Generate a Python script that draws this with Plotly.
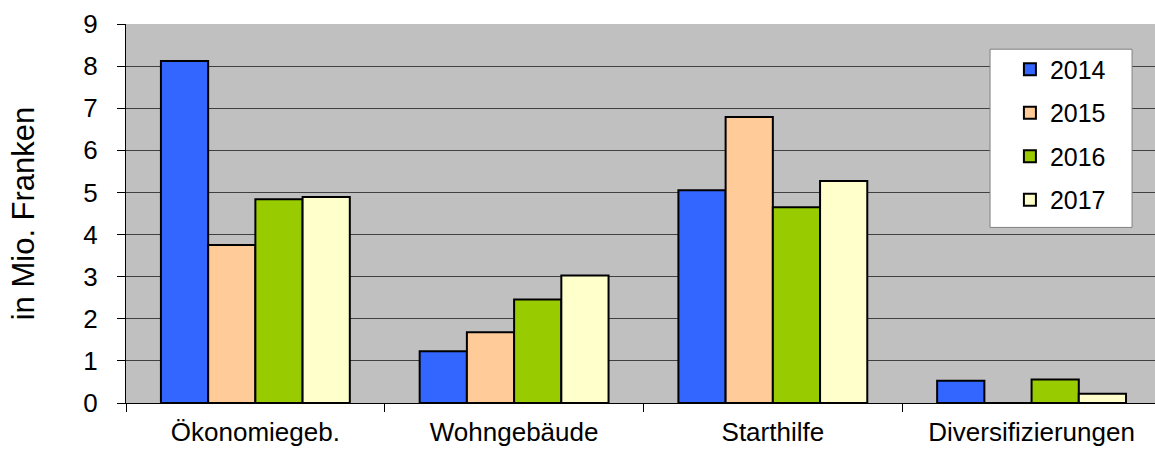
import plotly.graph_objects as go

categories = ["Ökonomiegeb.", "Wohngebäude", "Starthilfe", "Diversifizierungen"]
years = ["2014", "2015", "2016", "2017"]
v2014 = [8.12, 1.23, 5.05, 0.53]
v2015 = [3.75, 1.68, 6.79, 0.0]
v2016 = [4.84, 2.46, 4.65, 0.56]
v2017 = [4.89, 3.03, 5.27, 0.22]
series = [v2014, v2015, v2016, v2017]
colors = ["#3366FF", "#FFCC99", "#99CC00", "#FFFFCC"]
yticks = list(range(0, 10))

fig = go.Figure()
for i, (name, vals, col) in enumerate(zip(years, series, colors)):
    fig.add_trace(go.Bar(
        x=categories, y=vals, name=name,
        marker=dict(color=col, line=dict(color="black", width=2)),
        legendgroup=name,
    ))

# white legend frame
fig.add_shape(type="rect", xref="paper", yref="paper",
              x0=0.8397, x1=0.9777, y0=0.4633, y1=0.9335,
              fillcolor="white", line=dict(color="#808080", width=1), layer="above")

fig.update_layout(
    width=1155, height=452,
    margin=dict(l=125.5, r=0, t=23.5, b=49.3, autoexpand=False),
    paper_bgcolor="white",
    plot_bgcolor="#C0C0C0",
    barmode="group",
    bargap=0.27,
    bargroupgap=0,
    font=dict(family="Arial, Liberation Sans, sans-serif", size=25, color="black"),
    showlegend=True,
    legend=dict(
        x=0.859, y=0.9407, xanchor="left", yanchor="top",
        bgcolor="rgba(0,0,0,0)", borderwidth=0,
        font=dict(size=25),
        traceorder="grouped", tracegroupgap=8,
        itemwidth=30,
    ),
    xaxis=dict(
        range=[-0.5, 3.477],
        tickson="boundaries", ticks="outside", ticklen=8, tickcolor="black",
        showline=True, linecolor="black", linewidth=1,
        showgrid=False, tickfont=dict(size=26), automargin=False,
        ticklabelstandoff=6,
    ),
    yaxis=dict(
        range=[0, 9], tickvals=yticks, ticks="outside", ticklen=8, tickcolor="black",
        showline=True, linecolor="black", linewidth=1,
        showgrid=True, gridcolor="#404040", gridwidth=1,
        tickfont=dict(size=26), ticklabelstandoff=14,
        title=dict(text="in Mio. Franken", font=dict(size=31), standoff=39),
        zeroline=False, automargin=False,
    ),
)

fig.write_html("out.html",
               config={"displayModeBar": False},
               post_script="document.body.style.margin='0';document.body.style.overflow='hidden';")
